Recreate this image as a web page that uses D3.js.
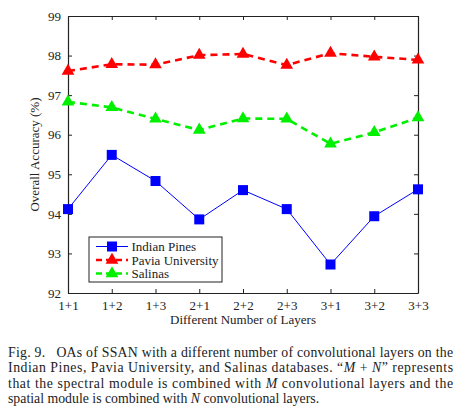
<!DOCTYPE html>
<html>
<head>
<meta charset="utf-8">
<script src="https://cdn.jsdelivr.net/npm/d3@7"></script>
<style>
  body { margin: 0; background: #fff; }
</style>
</head>
<body>
<div id="chart"></div>
<script>
var layers = ["1+1", "1+2", "1+3", "2+1", "2+2", "2+3", "3+1", "3+2", "3+3"];
var indianPines = [94.12, 95.49, 94.83, 93.86, 94.60, 94.12, 92.72, 93.94, 94.62];
var paviaUniversity = [97.61, 97.78, 97.77, 98.01, 98.04, 97.76, 98.06, 97.97, 97.89];
var salinas = [96.83, 96.69, 96.40, 96.12, 96.41, 96.40, 95.77, 96.06, 96.43];
var yTicks = [92, 93, 94, 95, 96, 97, 98, 99];
var seriesNames = ["Indian Pines", "Pavia University", "Salinas"];

var serif = "Liberation Serif";
var margin = { top: 16, right: 45, bottom: 120, left: 68 };
var width = 463 - margin.left - margin.right;
var height = 413 - margin.top - margin.bottom;

var svg = d3.select("#chart").append("svg")
    .attr("width", 463)
    .attr("height", 413)
    .attr("font-family", serif);
var g = svg.append("g")
    .attr("transform", "translate(" + margin.left + "," + margin.top + ")");

var x = d3.scalePoint().domain(layers).range([0, width]).padding(0);
var y = d3.scaleLinear().domain([92, 99]).range([height, 0]);

// box with inward ticks on every side
function styleAxis(sel) {
    sel.attr("font-family", serif).attr("font-size", 13);
    sel.select(".domain").attr("stroke", "#222").attr("stroke-width", 1.2);
    sel.selectAll(".tick line").attr("stroke", "#222").attr("stroke-width", 1);
    sel.selectAll(".tick text")
        .attr("font-family", serif)
        .attr("font-size", 13)
        .attr("fill", "#222");
}
g.append("g").attr("transform", "translate(0," + height + ")")
    .call(d3.axisBottom(x).tickSizeInner(-4).tickSizeOuter(0).tickPadding(8))
    .call(styleAxis);
g.append("g")
    .call(d3.axisTop(x).tickSizeInner(-4).tickSizeOuter(0).tickFormat(""))
    .call(styleAxis);
g.append("g")
    .call(d3.axisLeft(y).tickValues(yTicks).tickFormat(d3.format("d")).tickSizeInner(-4).tickSizeOuter(0).tickPadding(7))
    .call(styleAxis);
g.append("g").attr("transform", "translate(" + width + ",0)")
    .call(d3.axisRight(y).tickValues(yTicks).tickSizeInner(-4).tickSizeOuter(0).tickFormat(""))
    .call(styleAxis);

g.append("text")
    .attr("x", width / 2)
    .attr("y", height + 31)
    .attr("text-anchor", "middle")
    .attr("fill", "#222")
    .attr("font-family", serif)
    .attr("font-size", 13)
    .text("Different Number of Layers");
g.append("text")
    .attr("transform", "rotate(-90)")
    .attr("x", -height / 2)
    .attr("y", -29)
    .attr("text-anchor", "middle")
    .attr("fill", "#222")
    .attr("font-family", serif)
    .attr("font-size", 13)
    .text("Overall Accuracy (%)");

var series = [
    { name: seriesNames[0], values: indianPines, color: "#0000ff", width: 1, dash: null, marker: "square" },
    { name: seriesNames[1], values: paviaUniversity, color: "#ff0000", width: 2.6, dash: "7,5", marker: "triangle" },
    { name: seriesNames[2], values: salinas, color: "#00f000", width: 2.6, dash: "7,5", marker: "triangle" }
];

var line = d3.line()
    .x(function (d, i) { return x(layers[i]); })
    .y(function (d) { return y(d); });

function drawMarker(sel, s) {
    if (s.marker === "square") {
        sel.append("rect")
            .attr("x", -5).attr("y", -5)
            .attr("width", 10).attr("height", 10)
            .attr("fill", s.color);
    } else {
        sel.append("path")
            .attr("d", d3.symbol().type(d3.symbolTriangle).size(70))
            .attr("fill", s.color);
    }
}

series.forEach(function (s) {
    g.append("path")
        .datum(s.values)
        .attr("fill", "none")
        .attr("stroke", s.color)
        .attr("stroke-width", s.width)
        .attr("stroke-dasharray", s.dash)
        .attr("d", line);
    g.selectAll(null)
        .data(s.values)
        .enter().append("g")
        .attr("transform", function (d, i) { return "translate(" + x(layers[i]) + "," + y(d) + ")"; })
        .each(function () { drawMarker(d3.select(this), s); });
});

// legend
var legend = g.append("g").attr("transform", "translate(21,221)");
legend.append("rect")
    .attr("width", 133).attr("height", 45)
    .attr("fill", "#fff").attr("stroke", "#222").attr("stroke-width", 1);
series.forEach(function (s, i) {
    var row = legend.append("g").attr("transform", "translate(0," + (9.5 + i * 13.5) + ")");
    row.append("line")
        .attr("x1", 7).attr("x2", 39)
        .attr("stroke", s.color)
        .attr("stroke-width", s.width)
        .attr("stroke-dasharray", s.dash ? "6,4" : null);
    var m = row.append("g").attr("transform", "translate(23,0)");
    drawMarker(m, s);
    row.append("text")
        .attr("x", 42.5).attr("y", 4.5)
        .attr("fill", "#222")
        .attr("font-family", serif)
        .attr("font-size", 13)
        .text(s.name);
});

// caption
var caption = svg.append("g").attr("font-family", serif).attr("font-size", 13.8).attr("fill", "#222");
var cap1 = caption.append("text").attr("x", 8).attr("y", 357)
    .attr("textLength", 445).attr("lengthAdjust", "spacing");
cap1.append("tspan").text("Fig. 9.\u00a0\u00a0 OAs of SSAN with a different number of convolutional layers on the");
var cap2 = caption.append("text").attr("x", 8).attr("y", 372)
    .attr("textLength", 445).attr("lengthAdjust", "spacing");
cap2.append("tspan").text("Indian Pines, Pavia University, and Salinas databases. \u201c");
cap2.append("tspan").attr("font-style", "italic").text("M");
cap2.append("tspan").text(" + ");
cap2.append("tspan").attr("font-style", "italic").text("N");
cap2.append("tspan").text("\u201d represents");
var cap3 = caption.append("text").attr("x", 8).attr("y", 387.5)
    .attr("textLength", 445).attr("lengthAdjust", "spacing");
cap3.append("tspan").text("that the spectral module is combined with ");
cap3.append("tspan").attr("font-style", "italic").text("M");
cap3.append("tspan").text(" convolutional layers and the");
var cap4 = caption.append("text").attr("x", 8).attr("y", 402.5);
cap4.append("tspan").text("spatial module is combined with ");
cap4.append("tspan").attr("font-style", "italic").text("N");
cap4.append("tspan").text(" convolutional layers.");
</script>
</body>
</html>
